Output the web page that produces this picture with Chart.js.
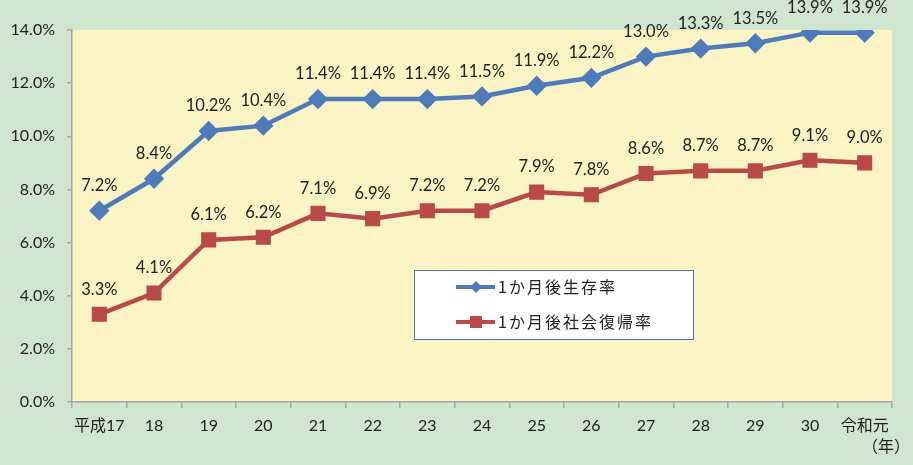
<!DOCTYPE html>
<html>
<head>
<meta charset="utf-8">
<script src="https://cdn.jsdelivr.net/npm/chart.js@4/dist/chart.umd.min.js"></script>
<style>
  html, body { margin: 0; padding: 0; background: #cfe5cf; }
  #wrap { width: 913px; height: 465px; }
</style>
</head>
<body>
<div id="wrap"><canvas id="grafico"></canvas></div>
<script>
// Datos
const anios = ['平成17', '18', '19', '20', '21', '22', '23', '24', '25', '26', '27', '28', '29', '30', '令和元'];
const supervivencia = [7.2, 8.4, 10.2, 10.4, 11.4, 11.4, 11.4, 11.5, 11.9, 12.2, 13.0, 13.3, 13.5, 13.9, 13.9];
const reinsercion = [3.3, 4.1, 6.1, 6.2, 7.1, 6.9, 7.2, 7.2, 7.9, 7.8, 8.6, 8.7, 8.7, 9.1, 9.0];
const nombres = ['1か月後生存率', '1か月後社会復帰率'];

const AZUL = '#4f7bbb';
const ROJO = '#b94a4a';
const FUENTE = 'Lato, "Noto Sans CJK JP", sans-serif';
const FUENTE_JP = '"Noto Sans CJK JP", sans-serif';

// Fondo del área de trazado, etiquetas, leyenda y unidad
const extras = {
    id: 'extras',
    beforeDraw(chart) {
        const { ctx, chartArea: a } = chart;
        ctx.save();
        ctx.fillStyle = '#faf3c4';
        ctx.fillRect(a.left, a.top, a.right - a.left, a.bottom - a.top);
        ctx.restore();
    },
    afterDatasetsDraw(chart) {
        const ctx = chart.ctx;
        ctx.save();
        ctx.font = '16.5px ' + FUENTE;
        ctx.fillStyle = '#222';
        ctx.textAlign = 'center';
        ctx.textBaseline = 'middle';
        chart.data.datasets.forEach((ds, i) => {
            chart.getDatasetMeta(i).data.forEach((p, j) => {
                ctx.fillText(ds.data[j].toFixed(1) + '%', p.x, p.y - 25);
            });
        });

        // Leyenda
        const lx = 414, ly = 270, lw = 279, lh = 69;
        ctx.fillStyle = '#ffffff';
        ctx.fillRect(lx, ly, lw, lh);
        ctx.strokeStyle = '#4f7bbb';
        ctx.lineWidth = 1;
        ctx.strokeRect(lx + 0.5, ly + 0.5, lw, lh);
        const filas = [287, 322];
        chart.data.datasets.forEach((ds, i) => {
            const y = filas[i];
            ctx.strokeStyle = ds.borderColor;
            ctx.lineWidth = 4;
            ctx.beginPath();
            ctx.moveTo(456, y);
            ctx.lineTo(495, y);
            ctx.stroke();
            ctx.fillStyle = ds.borderColor;
            if (i === 0) {
                ctx.beginPath();
                ctx.moveTo(476, y - 6);
                ctx.lineTo(482, y);
                ctx.lineTo(476, y + 6);
                ctx.lineTo(470, y);
                ctx.closePath();
                ctx.fill();
            } else {
                ctx.fillRect(470, y - 6, 12, 12);
            }
            ctx.fillStyle = '#222';
            ctx.textAlign = 'left';
            ctx.font = '16px ' + FUENTE_JP;
            ctx.letterSpacing = '2px';
            ctx.fillText(ds.label, 498, y);
            ctx.letterSpacing = '0px';
        });

        // Unidad
        ctx.font = '16px ' + FUENTE_JP;
        ctx.textAlign = 'center';
        ctx.fillStyle = '#222';
        ctx.fillText('（年）', 886, 446);
        ctx.restore();
    }
};

new Chart(document.getElementById('grafico').getContext('2d'), {
    type: 'line',
    data: {
        labels: anios,
        datasets: [{
            label: nombres[0],
            data: supervivencia,
            borderColor: AZUL,
            backgroundColor: AZUL,
            borderWidth: 4.5,
            pointStyle: 'rectRot',
            pointRadius: 7,
            pointHoverRadius: 7
        }, {
            label: nombres[1],
            data: reinsercion,
            borderColor: ROJO,
            backgroundColor: ROJO,
            borderWidth: 4.5,
            pointStyle: 'rect',
            pointRadius: 7.5,
            pointHoverRadius: 7.5
        }]
    },
    options: {
        responsive: true,
        maintainAspectRatio: false,
        animation: false,
        layout: { padding: { left: 0, right: 21, top: 30, bottom: 0 } },
        plugins: {
            legend: { display: false },
            tooltip: { enabled: false }
        },
        scales: {
            x: {
                offset: true,
                afterFit: s => { s.height = 63; },
                border: { color: '#a6a6a6', width: 1.5 },
                grid: { offset: true, drawOnChartArea: false, tickLength: 6, color: '#a6a6a6', lineWidth: 1.5 },
                ticks: { color: '#222', padding: 8, maxRotation: 0, autoSkip: false, font: { size: 16, family: FUENTE } }
            },
            y: {
                min: 0,
                max: 14,
                afterFit: s => { s.width = 72; },
                border: { color: '#a6a6a6', width: 1.5 },
                grid: { drawOnChartArea: false, tickLength: 5, color: '#a6a6a6', lineWidth: 1.5 },
                ticks: {
                    stepSize: 2,
                    color: '#222',
                    padding: 12,
                    font: { size: 16, family: FUENTE },
                    callback: v => v.toFixed(1) + '%'
                }
            }
        }
    },
    plugins: [extras]
});
</script>
</body>
</html>
